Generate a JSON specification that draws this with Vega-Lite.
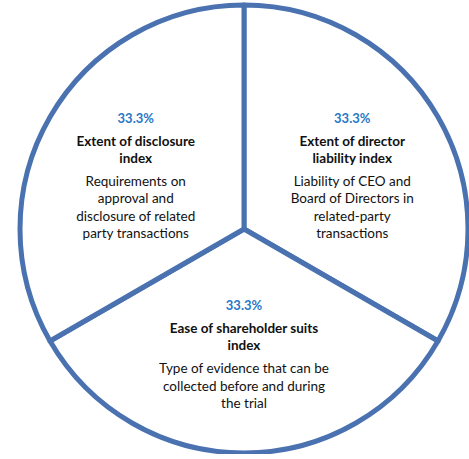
{
  "$schema": "https://vega.github.io/schema/vega-lite/v6.json",
  "width": 450,
  "height": 450,
  "autosize": "none",
  "padding": {"left": 19, "top": 4, "right": 0, "bottom": 0},
  "background": "white",
  "view": {"stroke": null},
  "data": {
    "values": [
      {"order": 1, "value": 33.3, "pct": "33.3%", "title": "Extent of director\nliability index", "desc": "Liability of CEO and\nBoard of Directors in\nrelated-party\ntransactions"},
      {"order": 2, "value": 33.3, "pct": "33.3%", "title": "Ease of shareholder suits\nindex", "desc": "Type of evidence that can be\ncollected before and during\nthe trial"},
      {"order": 3, "value": 33.3, "pct": "33.3%", "title": "Extent of disclosure\nindex", "desc": "Requirements on\napproval and\ndisclosure of related\nparty transactions"}
    ]
  },
  "encoding": {
    "theta": {"field": "value", "type": "quantitative", "stack": true},
    "order": {"field": "order", "type": "quantitative"}
  },
  "layer": [
    {
      "mark": {"type": "arc", "outerRadius": 224, "fill": "white", "stroke": "#4A72B0", "strokeWidth": 5, "strokeJoin": "round"}
    },
    {
      "mark": {"type": "text", "radius": 125, "dy": -54, "font": "Lato", "fontSize": 13, "fontWeight": "bold", "fill": "#2878C8", "baseline": "top", "align": "center", "lineBreak": "\n", "lineHeight": 16},
      "encoding": {"text": {"field": "pct", "type": "nominal"}}
    },
    {
      "mark": {"type": "text", "radius": 125, "dy": -32, "font": "Lato", "fontSize": 13.5, "fontWeight": "bold", "fill": "#111111", "baseline": "top", "align": "center", "lineBreak": "\n", "lineHeight": 17},
      "encoding": {"text": {"field": "title", "type": "nominal"}}
    },
    {
      "mark": {"type": "text", "radius": 125, "dy": 8, "font": "Lato", "fontSize": 13.5, "fill": "#111111", "baseline": "top", "align": "center", "lineBreak": "\n", "lineHeight": 17.5},
      "encoding": {"text": {"field": "desc", "type": "nominal"}}
    }
  ]
}
